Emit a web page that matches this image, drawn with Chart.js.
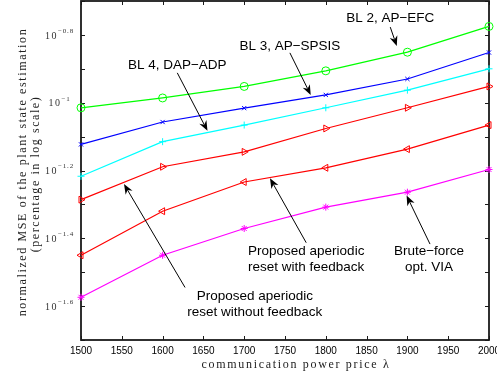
<!DOCTYPE html>
<html>
<head>
<meta charset="utf-8">
<script src="https://cdn.jsdelivr.net/npm/chart.js@4.4.0/dist/chart.umd.min.js"></script>
<style>
  html, body { margin: 0; padding: 0; background: #fff; }
  #wrap { width: 497px; height: 375px; position: relative; }
</style>
</head>
<body>
<div id="wrap"><canvas id="mse"></canvas></div>
<script>
// communication power price (x) and log10 of normalized MSE (y)
const prices = [1500, 1600, 1700, 1800, 1900, 2000];
const bl2Efc     = [-1.015, -0.986, -0.952, -0.906, -0.851, -0.775];
const bl3Spsis   = [-1.123, -1.057, -1.016, -0.977, -0.930, -0.852];
const bl4DapAdp  = [-1.217, -1.115, -1.066, -1.015, -0.963, -0.900];
const noFeedback = [-1.286, -1.189, -1.145, -1.076, -1.015, -0.952];
const withFeedback = [-1.450, -1.320, -1.234, -1.192, -1.137, -1.066];
const bruteForce = [-1.574, -1.450, -1.371, -1.308, -1.264, -1.197];

const xTicks = [1500, 1550, 1600, 1650, 1700, 1750, 1800, 1850, 1900, 1950, 2000];
const yTicks = [-0.7, -0.8, -0.9, -1.0, -1.1, -1.2, -1.3, -1.4, -1.5, -1.6, -1.7];
const yLabelVals = [-0.8, -1.0, -1.2, -1.4, -1.6];
const yLabelExps = ['\u22120.8', '\u22121', '\u22121.2', '\u22121.4', '\u22121.6'];

// callouts: text lines, first-line anchor, arrow tail, arrow head (all in data units)
const noteTexts = [
  ['BL 2, AP\u2212EFC'],
  ['BL 3, AP\u2212SPSIS'],
  ['BL 4, DAP\u2212ADP'],
  ['Proposed aperiodic', 'reset with feedback'],
  ['Proposed aperiodic', 'reset without feedback'],
  ['Brute\u2212force', 'opt. VIA']
];
const noteAt    = [[1879, -0.750], [1756, -0.835], [1618, -0.891], [1776, -1.4395], [1713, -1.572], [1926.5, -1.4395]];
const arrowFrom = [[1879, -0.777], [1756, -0.853], [1618, -0.912], [1776, -1.413], [1627.5, -1.545], [1927.7, -1.417]];
const arrowTo   = [[1887, -0.833], [1781.5, -0.977], [1655, -1.083], [1731.6, -1.223], [1552.7, -1.240], [1899, -1.274]];

const xTitle = 'communication power price \u03bb';
const yTitle = ['normalized MSE of the plant state estimation', '(percentage in log scale)'];

const pts = ys => prices.map((p, i) => ({ x: p, y: ys[i] }));

function series(ys, color, style, radius, rot) {
  return {
    data: pts(ys),
    borderColor: color,
    backgroundColor: 'rgba(0,0,0,0)',
    borderWidth: 1.2,
    pointStyle: style,
    pointRadius: radius,
    pointRotation: rot || 0,
    pointBorderColor: color,
    pointBackgroundColor: 'rgba(0,0,0,0)',
    pointBorderWidth: 1,
    tension: 0,
    clip: false
  };
}

function spaced(ctx, text, target) {
  ctx.letterSpacing = '0px';
  const w = ctx.measureText(text).width;
  const s = (target - w) / (text.length - 1);
  ctx.letterSpacing = s.toFixed(2) + 'px';
}

const matlabAxes = {
  id: 'matlabAxes',
  beforeDatasetsDraw(chart) {
    const { ctx, chartArea: a, scales: { x, y } } = chart;
    ctx.save();
    ctx.strokeStyle = '#1a1a1a';
    ctx.lineWidth = 1;
    ctx.beginPath();
    xTicks.forEach(v => {
      const px = Math.round(x.getPixelForValue(v)) + 0.5;
      ctx.moveTo(px, a.bottom); ctx.lineTo(px, a.bottom - 4);
      ctx.moveTo(px, a.top); ctx.lineTo(px, a.top + 4);
    });
    yTicks.forEach(v => {
      const py = Math.round(y.getPixelForValue(v)) + 0.5;
      ctx.moveTo(a.left, py); ctx.lineTo(a.left + 4, py);
      ctx.moveTo(a.right, py); ctx.lineTo(a.right - 4, py);
    });
    ctx.stroke();
    ctx.lineWidth = 1.8;
    ctx.strokeRect(a.left, a.top, a.right - a.left, a.bottom - a.top);

    // y tick labels 10^{...}
    ctx.fillStyle = '#333';
    ctx.textBaseline = 'middle';
    ctx.textAlign = 'left';
    yLabelVals.forEach((v, i) => {
      const py = y.getPixelForValue(v);
      ctx.font = '10px "Liberation Serif"';
      ctx.letterSpacing = '1.5px';
      const wb = ctx.measureText('10').width;
      ctx.font = '7px "Liberation Serif"';
      ctx.letterSpacing = '0.8px';
      const we = ctx.measureText(yLabelExps[i]).width;
      const x0 = 59.5 - (wb + we) / 2;
      ctx.font = '10px "Liberation Serif"';
      ctx.letterSpacing = '1.5px';
      ctx.fillText('10', x0, py + 1);
      ctx.font = '7px "Liberation Serif"';
      ctx.letterSpacing = '0.8px';
      ctx.fillText(yLabelExps[i], x0 + wb, py - 4);
    });

    // axis titles
    ctx.fillStyle = '#222';
    ctx.textAlign = 'center';
    ctx.font = '12px "Liberation Serif"';
    spaced(ctx, xTitle, 187);
    ctx.fillText(xTitle, 296, 365);
    ctx.save();
    ctx.translate(23, 172);
    ctx.rotate(-Math.PI / 2);
    spaced(ctx, yTitle[0], 287);
    ctx.fillText(yTitle[0], 0, 0);
    ctx.restore();
    ctx.save();
    ctx.translate(36, 174);
    ctx.rotate(-Math.PI / 2);
    spaced(ctx, yTitle[1], 155);
    ctx.fillText(yTitle[1], 0, 0);
    ctx.restore();
    ctx.restore();
  },
  afterDraw(chart) {
    const { ctx, scales: { x, y } } = chart;
    ctx.save();
    ctx.letterSpacing = '0px';
    ctx.fillStyle = '#000';
    ctx.strokeStyle = '#000';
    ctx.font = '13.5px "Liberation Sans"';
    ctx.textAlign = 'center';
    ctx.textBaseline = 'middle';
    noteTexts.forEach((lines, i) => {
      const tx = x.getPixelForValue(noteAt[i][0]);
      const ty = y.getPixelForValue(noteAt[i][1]);
      lines.forEach((t, k) => ctx.fillText(t, tx, ty + k * 15.8));

      const x1 = x.getPixelForValue(arrowFrom[i][0]), y1 = y.getPixelForValue(arrowFrom[i][1]);
      const x2 = x.getPixelForValue(arrowTo[i][0]), y2 = y.getPixelForValue(arrowTo[i][1]);
      const ang = Math.atan2(y2 - y1, x2 - x1);
      const len = 10, half = 4;
      const bx = x2 - Math.cos(ang) * len, by = y2 - Math.sin(ang) * len;
      ctx.lineWidth = 1;
      ctx.beginPath();
      ctx.moveTo(x1, y1);
      ctx.lineTo(bx + Math.cos(ang) * 3, by + Math.sin(ang) * 3);
      ctx.stroke();
      ctx.beginPath();
      ctx.moveTo(x2, y2);
      ctx.lineTo(bx - Math.sin(ang) * half, by + Math.cos(ang) * half);
      ctx.lineTo(bx + Math.cos(ang) * 3, by + Math.sin(ang) * 3);
      ctx.lineTo(bx + Math.sin(ang) * half, by - Math.cos(ang) * half);
      ctx.closePath();
      ctx.fill();
    });
    ctx.restore();
  }
};

new Chart(document.getElementById('mse'), {
  type: 'line',
  data: {
    datasets: [
      series(bl2Efc, '#00ff00', 'circle', 4),
      series(bl3Spsis, '#0000ff', 'crossRot', 3),
      series(bl4DapAdp, '#00ffff', 'cross', 3.5),
      series(noFeedback, '#ff0000', 'triangle', 4, 90),
      series(withFeedback, '#ff0000', 'triangle', 4, -90),
      series(bruteForce, '#ff00ff', 'star', 3.5)
    ]
  },
  plugins: [matlabAxes],
  options: {
    responsive: true,
    maintainAspectRatio: false,
    animation: false,
    layout: { autoPadding: false, padding: { left: 0, right: 8, top: 1, bottom: 0 } },
    plugins: { legend: { display: false }, tooltip: { enabled: false } },
    scales: {
      x: {
        type: 'linear',
        min: 1500,
        max: 2000,
        grid: { display: false, drawTicks: false },
        border: { display: false },
        ticks: {
          stepSize: 50,
          padding: 5,
          color: '#000',
          font: { family: 'Liberation Sans', size: 10 },
          maxRotation: 0,
          autoSkip: false,
          callback: v => String(v)
        },
        afterFit: s => { s.height = 35; s.paddingLeft = 0; s.paddingRight = 0; }
      },
      y: {
        type: 'linear',
        min: -1.7,
        max: -0.7,
        grid: { display: false, drawTicks: false },
        border: { display: false },
        ticks: { display: false },
        afterFit: s => { s.width = 81; s.paddingTop = 0; s.paddingBottom = 0; }
      }
    }
  }
});
</script>
</body>
</html>
